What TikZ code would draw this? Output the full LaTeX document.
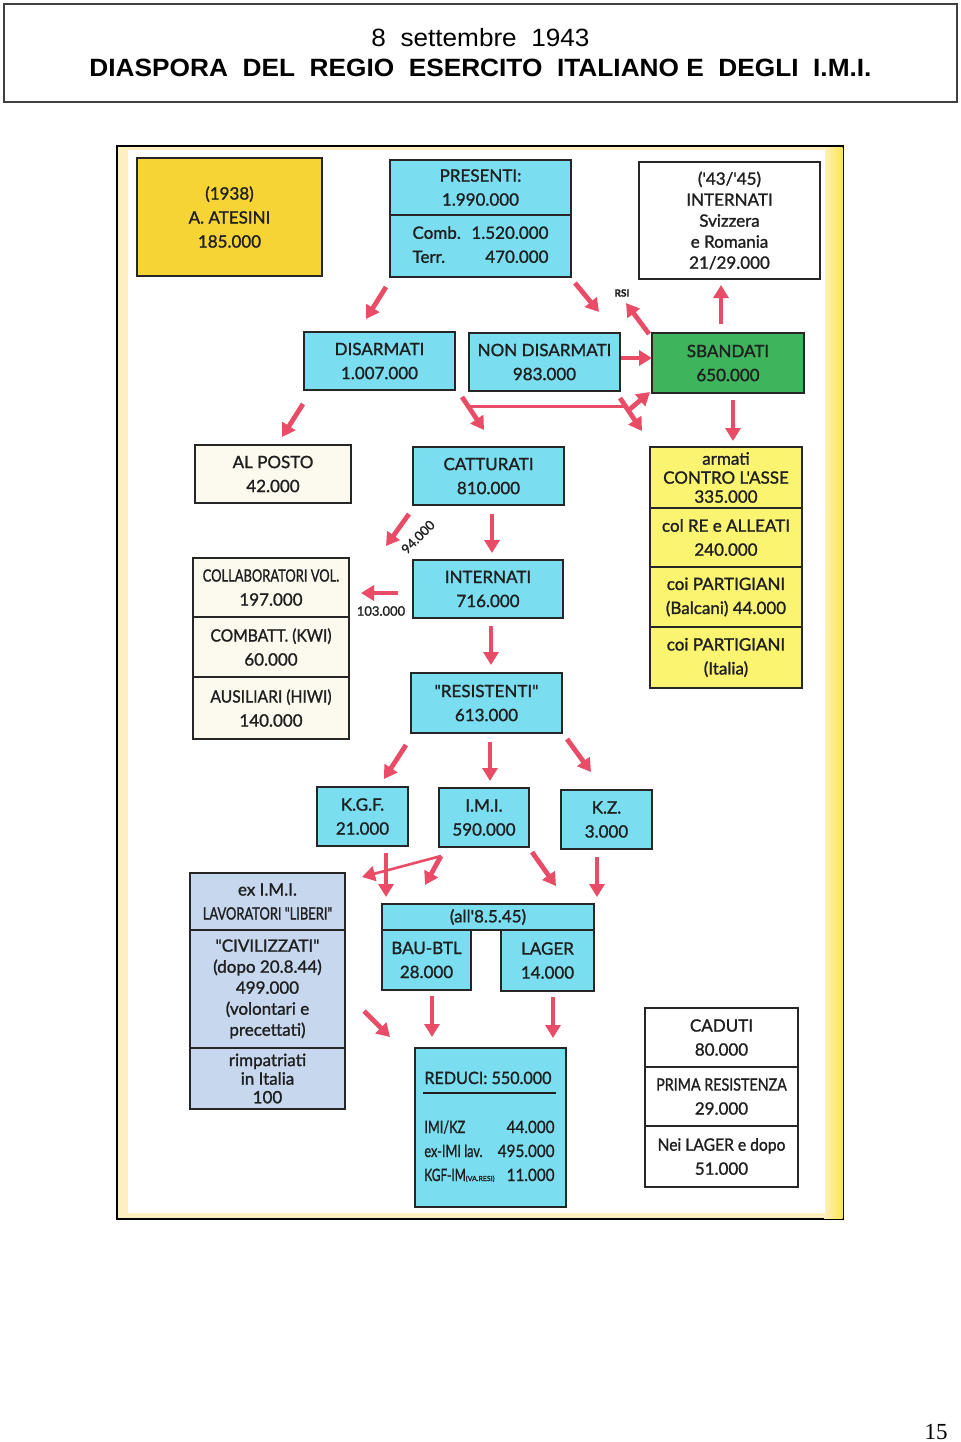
\documentclass[tikz,border=0pt]{standalone}
\usepackage{fontspec}
\setmainfont{Liberation Sans}
\newfontfamily\dfont[FakeBold=1.3]{Lato}
\newfontfamily\pnfont{Liberation Serif}
\usetikzlibrary{arrows.meta}
\definecolor{cy}{RGB}{122,222,240}
\definecolor{gold}{RGB}{245,212,52}
\definecolor{lyel}{RGB}{250,244,112}
\definecolor{grn}{RGB}{62,180,92}
\definecolor{cream}{RGB}{252,250,238}
\definecolor{bgray}{RGB}{198,215,238}
\definecolor{arr}{RGB}{232,76,102}
\definecolor{fpale}{RGB}{253,240,190}
\definecolor{fyel}{RGB}{252,230,80}
\newcommand\boxnode[8][12]{\node[cellbox, fill=#7, font=\dfont\fontsize{8.5}{#1}\selectfont,
  minimum width={(#5-#3)*0.5pt}, minimum height={(#6-#4)*0.5pt}] (#2) at ({(#3+#5)/2},{(#4+#6)/2}) {#8};}
\newcommand\arw[4][arrowst]{\coordinate (#2s) at #3; \coordinate (#2e) at #4; \draw[#1] (#2s) -- (#2e);}
\newcommand\sq[2]{\scalebox{#1}[1]{#2}}
\tikzset{
  cellbox/.style={draw=black!85, line width=0.8pt, inner sep=0pt, align=center, text=black!88},
  arrowst/.style={draw=arr, line width=2.4pt, -{Triangle[width=7.5pt,length=6.5pt]}},
  thinarrow/.style={draw=arr, line width=1.3pt, -{Triangle[width=7.5pt,length=6.5pt]}},
  smalltxt/.style={font=\dfont\fontsize{6.5}{7}\selectfont, text=black!88, inner sep=0pt},
  rtxt/.style={font=\dfont\fontsize{8.5}{12}\selectfont, text=black!88, inner sep=0pt}
}
\begin{document}
\begin{tikzpicture}[x=0.5pt,y=-0.5pt]
\useasboundingbox (0,0) rectangle (960,1442);
% header
\node[draw=black!75, line width=0.6pt, minimum width=476.5pt, minimum height=49pt, inner sep=0pt,
  align=center, font=\fontsize{12.5}{15}\selectfont] (title) at (480.5,53)
  {\resizebox{109pt}{\height}{8\ \ settembre\ \ 1943}\\
   \resizebox{391pt}{\height}{\bfseries DIASPORA\ \ DEL\ \ REGIO\ \ ESERCITO\ \ ITALIANO E\ \ DEGLI\ \ I.M.I.}};
% frame
\draw[line width=0.6pt, fill=fpale] (117,146) rectangle (843,1219);
\fill[left color=fpale, right color=fyel] (824,147) rectangle (842.5,1218.5);
\fill[white] (128,150) rectangle (825,1213);
% boxes
\boxnode{atesini}{137}{158}{322}{276}{gold}{(1938)\\A. ATESINI\\185.000}
\boxnode{pres}{390}{160}{571}{215}{cy}{PRESENTI:\\1.990.000}
\boxnode{presb}{390}{215}{571}{277}{cy}{\begin{tabular*}{68pt}{@{}l@{\extracolsep{\fill}}r@{}}Comb. & 1.520.000\\ Terr. & 470.000\end{tabular*}}
\boxnode[10.5]{intsv}{639}{162}{820}{279}{white}{('43/'45)\\INTERNATI\\Svizzera\\e Romania\\21/29.000}
\boxnode{dis}{304}{332}{455}{390}{cy}{DISARMATI\\1.007.000}
\boxnode{nondis}{469}{333}{620}{391}{cy}{NON DISARMATI\\983.000}
\boxnode{sband}{652}{333}{804}{393}{grn}{SBANDATI\\650.000}
\boxnode{alposto}{195}{445}{351}{503}{cream}{AL POSTO\\42.000}
\boxnode{catt}{413}{447}{564}{505}{cy}{CATTURATI\\810.000}
\boxnode[9.5]{asse}{650}{447}{802}{508}{lyel}{armati\\CONTRO L'ASSE\\335.000}
\boxnode{re}{650}{508}{802}{567}{lyel}{col RE e ALLEATI\\240.000}
\boxnode{balc}{650}{567}{802}{627}{lyel}{coi PARTIGIANI\\(Balcani) 44.000}
\boxnode{ital}{650}{627}{802}{688}{lyel}{coi PARTIGIANI\\(Italia)}
\boxnode{collab}{193}{558}{349}{617}{cream}{\sq{0.76}{COLLABORATORI VOL.}\\197.000}
\boxnode{kwi}{193}{617}{349}{677}{cream}{\sq{0.92}{COMBATT. (KWI)}\\60.000}
\boxnode{hiwi}{193}{677}{349}{739}{cream}{\sq{0.92}{AUSILIARI (HIWI)}\\140.000}
\boxnode{intern}{413}{560}{563}{618}{cy}{INTERNATI\\716.000}
\boxnode{resist}{411}{673}{562}{733}{cy}{"RESISTENTI"\\613.000}
\boxnode{kgf}{317}{787}{408}{846}{cy}{K.G.F.\\21.000}
\boxnode{imi}{439}{788}{529}{847}{cy}{I.M.I.\\590.000}
\boxnode{kz}{561}{790}{652}{849}{cy}{K.Z.\\3.000}
\boxnode{lib}{190}{873}{345}{930}{bgray}{ex I.M.I.\\\sq{0.76}{LAVORATORI "LIBERI"}}
\boxnode[10.5]{civ}{190}{930}{345}{1048}{bgray}{"CIVILIZZATI"\\(dopo 20.8.44)\\499.000\\(volontari e\\precettati)}
\boxnode[9.3]{rimp}{190}{1048}{345}{1109}{bgray}{rimpatriati\\in Italia\\100}
\boxnode{all}{382}{904}{594}{930}{cy}{(all'8.5.45)}
\boxnode{bau}{382}{930}{471}{990}{cy}{BAU-BTL\\28.000}
\boxnode{lager}{501}{930}{594}{991}{cy}{LAGER\\14.000}
\boxnode{reduci}{415}{1048}{566}{1207}{cy}{}
\boxnode{caduti}{645}{1008}{798}{1067}{white}{CADUTI\\80.000}
\boxnode{prima}{645}{1067}{798}{1126}{white}{\sq{0.84}{PRIMA RESISTENZA}\\29.000}
\boxnode{lagerd}{645}{1126}{798}{1187}{white}{\sq{0.92}{Nei LAGER e dopo}\\51.000}
% reduci content
\node[rtxt, anchor=base west] (red1) at (424,1084) {\sq{0.95}{REDUCI: 550.000}};
\coordinate (ul1) at (423,1093); \coordinate (ul2) at (556,1093);
\draw[line width=0.9pt, black!88] (ul1) -- (ul2);
\node[rtxt, anchor=base west] (r2a) at (424,1133) {\sq{0.75}{IMI/KZ}};
\node[rtxt, anchor=base east] (r2b) at (555,1133) {\sq{0.9}{44.000}};
\node[rtxt, anchor=base west] (r3a) at (424,1157) {\sq{0.75}{ex-IMI lav.}};
\node[rtxt, anchor=base east] (r3b) at (555,1157) {\sq{0.9}{495.000}};
\node[rtxt, anchor=base west] (r4a) at (424,1181) {\sq{0.7}{KGF-IM}{\fontsize{3.5}{4}\selectfont (VA.RESI)}};
\node[rtxt, anchor=base east] (r4b) at (555,1181) {\sq{0.9}{11.000}};
% labels
\node[smalltxt, font=\dfont\bfseries\fontsize{5}{6}\selectfont] (rsi) at (622,293) {RSI};
\node[smalltxt, rotate=45] (l94) at (418,537) {94.000};
\node[smalltxt] (l103) at (381,611) {103.000};
% arrows
\arw{a1}{(386,287)}{(366,319)}
\arw{a2}{(575,283)}{(599,312)}
\arw{a3}{(649,334)}{(626,303)}
\arw{a4}{(721,324)}{(721,285)}
\arw{a5}{(621,358)}{(652,358)}
\arw{a6}{(303,404)}{(282,437)}
\arw{a7}{(462,397)}{(484,430)}
\coordinate (hl1) at (470,406); \coordinate (hl2) at (626,406);
\draw[arr, line width=1.5pt] (hl1) -- (hl2);
\arw{a8}{(620,398)}{(642,431)}
\arw{a9}{(630,409)}{(650,392)}
\arw{a10}{(733,400)}{(733,441)}
\arw{a11}{(492,514)}{(492,553)}
\arw{a12}{(409,514)}{(386,546)}
\arw{a13}{(398,593)}{(361,593)}
\arw{a14}{(491,626)}{(491,665)}
\arw{a15}{(406,745)}{(384,779)}
\arw{a16}{(490,742)}{(490,781)}
\arw{a17}{(567,739)}{(591,772)}
\arw{a18}{(386,853)}{(386,897)}
\arw[thinarrow]{a19}{(441,856)}{(362,877)}
\arw{a20}{(441,856)}{(425,885)}
\arw{a21}{(532,852)}{(556,886)}
\arw{a22}{(597,857)}{(597,897)}
\arw{a23}{(364,1011)}{(390,1037)}
\arw{a24}{(432,996)}{(432,1037)}
\arw{a25}{(553,997)}{(553,1038)}
% page number
\node[font=\pnfont\fontsize{11.5}{13}\selectfont, inner sep=0pt] (pnum) at (936,1432) {15};
\end{tikzpicture}
\end{document}
